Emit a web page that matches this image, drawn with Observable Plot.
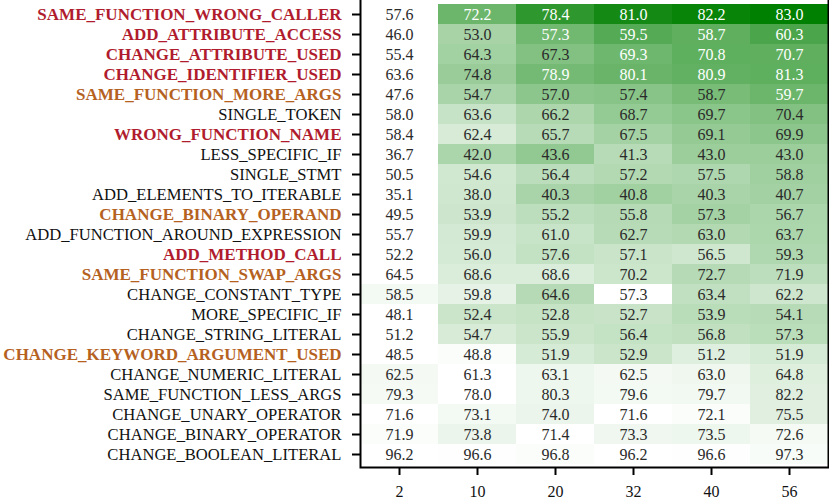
<!DOCTYPE html>
<html><head><meta charset="utf-8">
<script src="https://cdn.jsdelivr.net/npm/d3@7"></script>
<script src="https://cdn.jsdelivr.net/npm/@observablehq/plot@0.6"></script>
<style>html,body{margin:0;padding:0;background:#fff} svg{display:block}</style>
</head><body><div id="chart"></div>
<script>
const categories = [
  "SAME_FUNCTION_WRONG_CALLER","ADD_ATTRIBUTE_ACCESS","CHANGE_ATTRIBUTE_USED","CHANGE_IDENTIFIER_USED",
  "SAME_FUNCTION_MORE_ARGS","SINGLE_TOKEN","WRONG_FUNCTION_NAME","LESS_SPECIFIC_IF","SINGLE_STMT",
  "ADD_ELEMENTS_TO_ITERABLE","CHANGE_BINARY_OPERAND","ADD_FUNCTION_AROUND_EXPRESSION","ADD_METHOD_CALL",
  "SAME_FUNCTION_SWAP_ARGS","CHANGE_CONSTANT_TYPE","MORE_SPECIFIC_IF","CHANGE_STRING_LITERAL",
  "CHANGE_KEYWORD_ARGUMENT_USED","CHANGE_NUMERIC_LITERAL","SAME_FUNCTION_LESS_ARGS",
  "CHANGE_UNARY_OPERATOR","CHANGE_BINARY_OPERATOR","CHANGE_BOOLEAN_LITERAL"
];
const columns = ["2","10","20","32","40","56"];
const col2  = [57.6,46.0,55.4,63.6,47.6,58.0,58.4,36.7,50.5,35.1,49.5,55.7,52.2,64.5,58.5,48.1,51.2,48.5,62.5,79.3,71.6,71.9,96.2];
const col10 = [72.2,53.0,64.3,74.8,54.7,63.6,62.4,42.0,54.6,38.0,53.9,59.9,56.0,68.6,59.8,52.4,54.7,48.8,61.3,78.0,73.1,73.8,96.6];
const col20 = [78.4,57.3,67.3,78.9,57.0,66.2,65.7,43.6,56.4,40.3,55.2,61.0,57.6,68.6,64.6,52.8,55.9,51.9,63.1,80.3,74.0,71.4,96.8];
const col32 = [81.0,59.5,69.3,80.1,57.4,68.7,67.5,41.3,57.2,40.8,55.8,62.7,57.1,70.2,57.3,52.7,56.4,52.9,62.5,79.6,71.6,73.3,96.2];
const col40 = [82.2,58.7,70.8,80.9,58.7,69.7,69.1,43.0,57.5,40.3,57.3,63.0,56.5,72.7,63.4,53.9,56.8,51.2,63.0,79.7,72.1,73.5,96.6];
const col56 = [83.0,60.3,70.7,81.3,59.7,70.4,69.9,43.0,58.8,40.7,56.7,63.7,59.3,71.9,62.2,54.1,57.3,51.9,64.8,82.2,75.5,72.6,97.3];
const redLabels = ["SAME_FUNCTION_WRONG_CALLER","ADD_ATTRIBUTE_ACCESS","CHANGE_ATTRIBUTE_USED","CHANGE_IDENTIFIER_USED","WRONG_FUNCTION_NAME","ADD_METHOD_CALL"];
const orangeLabels = ["SAME_FUNCTION_MORE_ARGS","CHANGE_BINARY_OPERAND","SAME_FUNCTION_SWAP_ARGS","CHANGE_KEYWORD_ARGUMENT_USED"];

const series = [col2, col10, col20, col32, col40, col56];
const cells = [];
categories.forEach((c, i) => {
  const vals = series.map(s => s[i]);
  const mn = d3.min(vals);
  columns.forEach((k, j) => cells.push({row: c, col: k, value: series[j][i], rel: (series[j][i] - mn) / mn}));
});
const maxRel = d3.max(cells, d => d.rel);
const thr = 0.54 * maxRel;
const plainLabels = categories.filter(c => !redLabels.includes(c) && !orangeLabels.includes(c));

const FF = "Liberation Serif";
const lab = {y: d => d, frameAnchor: "left", dx: -19, textAnchor: "end", fontFamily: FF};
const chart = Plot.plot({
  width: 829, height: 501,
  marginLeft: 360, marginRight: 1, marginTop: 0, marginBottom: 34,
  style: {fontFamily: FF, fontSize: "16px", color: "black", background: "white"},
  x: {domain: columns, padding: 0, label: null},
  y: {domain: categories, padding: 0, label: null},
  color: {type: "linear", domain: [0, maxRel], range: ["#ffffff", "#008000"]},
  marks: [
    Plot.cell(cells, {x: "col", y: "row", fill: "rel"}),
    Plot.text(cells.filter(d => d.rel <= thr), {x: "col", y: "row", text: d => d.value.toFixed(1), fill: "#2a2a2a", fontSize: 16, fontFamily: FF}),
    Plot.text(cells.filter(d => d.rel > thr), {x: "col", y: "row", text: d => d.value.toFixed(1), fill: "white", fontSize: 16, fontFamily: FF}),
    Plot.frame({stroke: "black", strokeWidth: 2, insetTop: -4}),
    Plot.axisX({tickSize: 8, tickPadding: 10, strokeWidth: 2, stroke: "black", label: null, fontSize: 16, fontFamily: FF, fill: "#111"}),
    Plot.axisY({tickSize: 8, strokeWidth: 2, stroke: "black", tickFormat: () => "", label: null}),
    Plot.text(plainLabels, {...lab, fontSize: 16.6, fill: "#111"}),
    Plot.text(redLabels, {...lab, fontSize: 17, fill: "#b01c2e", fontWeight: "bold"}),
    Plot.text(orangeLabels, {...lab, fontSize: 17, fill: "#b5611f", fontWeight: "bold"})
  ]
});
document.getElementById("chart").appendChild(chart);
</script>
</body></html>
